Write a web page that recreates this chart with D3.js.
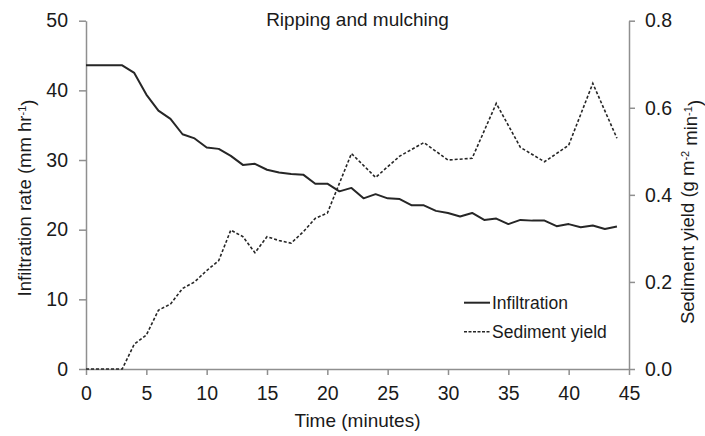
<!DOCTYPE html>
<html>
<head>
<meta charset="utf-8">
<script src="https://cdn.jsdelivr.net/npm/d3@7"></script>
<style>
  html, body { margin: 0; padding: 0; background: #fff; }
  svg { display: block; font-family: "Liberation Sans", Arial, sans-serif; }
</style>
</head>
<body>
<svg id="chart" width="705" height="436"></svg>
<script>
// ---- Data ----
const infTime = [0,1,2,3,4,5,6,7,8,9,10,11,12,13,14,15,16,17,18,19,20,21,22,23,24,25,26,27,28,29,30,31,32,33,34,35,36,37,38,39,40,41,42,43,44];
const infiltration = [43.6,43.6,43.6,43.6,42.5,39.4,37.1,35.9,33.7,33.1,31.8,31.6,30.6,29.3,29.45,28.6,28.2,28.0,27.9,26.6,26.6,25.5,26.0,24.5,25.1,24.5,24.4,23.5,23.5,22.7,22.4,21.9,22.4,21.4,21.6,20.8,21.4,21.3,21.3,20.5,20.8,20.35,20.6,20.1,20.45];
const sedTime = [0,1,2,3,4,5,6,7,8,9,10,11,12,13,14,15,16,17,18,19,20,22,24,26,28,30,32,34,36,38,40,42,44];
const sediment = [0,0,0,0,0.057,0.078,0.135,0.149,0.185,0.2,0.226,0.249,0.319,0.304,0.267,0.304,0.295,0.289,0.315,0.346,0.358,0.495,0.44,0.489,0.52,0.48,0.484,0.61,0.509,0.476,0.514,0.656,0.53];
const xTicks = [0,5,10,15,20,25,30,35,40,45];
const yLeftTicks = [0,10,20,30,40,50];
const yRightTicks = [0,0.2,0.4,0.6,0.8];
const titleText = "Ripping and mulching";
const seriesNames = ["Infiltration", "Sediment yield"];

// ---- Layout ----
const svg = d3.select("#chart");
const mLeft = 86, mRight = 629, mTop = 20.7, mBottom = 369;
const axisColor = "#8f8f8f";
const lineColor = "#262626";
const textColor = "#1a1a1a";
const fs = 19.5;

const x = d3.scaleLinear().domain([0,45]).range([mLeft,mRight]);
const yL = d3.scaleLinear().domain([0,50]).range([mBottom,mTop]);
const yR = d3.scaleLinear().domain([0,0.8]).range([mBottom,mTop]);

function styleAxis(g) {
  g.selectAll("path.domain").attr("stroke", axisColor).attr("stroke-width", 1.5);
  g.selectAll(".tick line").attr("stroke", axisColor).attr("stroke-width", 1.5);
  g.selectAll(".tick text").attr("fill", textColor).style("font-size", fs + "px")
    .style("font-family", '"Liberation Sans", Arial, sans-serif');
}

// Bottom axis
const gx = svg.append("g").attr("transform", `translate(0,${mBottom})`)
  .call(d3.axisBottom(x).tickValues(xTicks).tickSize(6).tickPadding(11).tickSizeOuter(0));
styleAxis(gx);

// Left axis
const gl = svg.append("g").attr("transform", `translate(${mLeft},0)`)
  .call(d3.axisLeft(yL).tickValues(yLeftTicks).tickSize(7).tickPadding(11).tickSizeOuter(0));
styleAxis(gl);

// Right axis
const gr = svg.append("g").attr("transform", `translate(${mRight},0)`)
  .call(d3.axisRight(yR).tickValues(yRightTicks).tickFormat(d3.format(".1f")).tickSize(6).tickPadding(10).tickSizeOuter(0));
styleAxis(gr);

// Lines
const infData = infTime.map((t,i) => [t, infiltration[i]]);
const sedData = sedTime.map((t,i) => [t, sediment[i]]);

svg.append("path").datum(infData)
  .attr("fill","none").attr("stroke",lineColor).attr("stroke-width",2).attr("stroke-linejoin","round")
  .attr("d", d3.line().x(d=>x(d[0])).y(d=>yL(d[1])));

svg.append("path").datum(sedData)
  .attr("fill","none").attr("stroke",lineColor).attr("stroke-width",1.6).attr("stroke-dasharray","3,2")
  .attr("d", d3.line().x(d=>x(d[0])).y(d=>yR(d[1])));

// Title
svg.append("text").attr("x", (mLeft+mRight)/2).attr("y", 26).attr("text-anchor","middle")
  .attr("fill", textColor).style("font-size","19px").text(titleText);

// Axis titles
svg.append("text").attr("x", (mLeft+mRight)/2).attr("y", 427).attr("text-anchor","middle")
  .attr("fill", textColor).style("font-size","19px").text("Time (minutes)");

const lt = svg.append("text").attr("transform","translate(31,198) rotate(-90)").attr("text-anchor","middle")
  .attr("fill", textColor).style("font-size","18.5px");
lt.append("tspan").text("Infiltration rate (mm hr");
lt.append("tspan").attr("dy","-0.45em").style("font-size","11px").text("-1");
lt.append("tspan").attr("dy","0.45em").text(")");

const rt = svg.append("text").attr("transform","translate(694,212) rotate(-90)").attr("text-anchor","middle")
  .attr("fill", textColor).style("font-size","18.5px");
rt.append("tspan").text("Sediment yield (g m");
rt.append("tspan").attr("dy","-0.45em").style("font-size","11px").text("-2");
rt.append("tspan").attr("dy","0.45em").text(" min");
rt.append("tspan").attr("dy","-0.45em").style("font-size","11px").text("-1");
rt.append("tspan").attr("dy","0.45em").text(")");

// Legend
const legend = svg.append("g");
const legY = [302.7, 331.7];
const dashes = [null, "3,1.5"];
const widths = [2, 1.5];
seriesNames.forEach((name, i) => {
  legend.append("line").attr("x1",464).attr("x2",490).attr("y1",legY[i]).attr("y2",legY[i])
    .attr("stroke",lineColor).attr("stroke-width",widths[i]).attr("stroke-dasharray",dashes[i]);
  legend.append("text").attr("x",492).attr("y",legY[i]+6.5).attr("fill",textColor)
    .style("font-size","17.5px").text(name);
});
</script>
</body>
</html>
